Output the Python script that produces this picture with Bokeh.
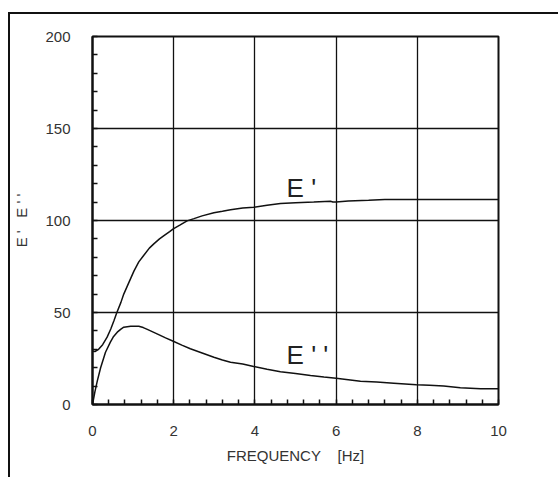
from bokeh.plotting import figure
from bokeh.models import SingleIntervalTicker, Range1d
from bokeh.core.properties import value
from bokeh.embed import file_html
from bokeh.resources import INLINE

# Storage modulus E'
freq_e1 = [0, 0.06, 0.15, 0.25, 0.36, 0.45, 0.53, 0.6, 0.7, 0.77, 0.9, 1.02, 1.14, 1.26, 1.4,
           1.51, 1.65, 1.76, 1.9, 1.99, 2.15, 2.33, 2.5, 2.7, 2.99, 3.2, 3.4, 3.7, 3.97, 4.3,
           4.63, 5.0, 5.45, 5.86, 5.92, 6.0, 6.3, 6.8, 7.2, 8.0, 9.0, 10.0]
e_storage = [29, 28.8, 30, 32.5, 36.6, 41, 45.7, 50, 55.5, 60, 66.5, 72.5, 77.5, 81, 85,
             87.3, 90, 91.8, 94, 95.5, 97.5, 99.8, 101, 102.5, 104.2, 105, 105.8, 106.8, 107.2, 108.3,
             109.2, 109.6, 110, 110.5, 110.1, 110, 110.6, 111, 111.4, 111.4, 111.4, 111.4]

# Loss modulus E''
freq_e2 = [0, 0.06, 0.12, 0.2, 0.32, 0.44, 0.52, 0.61, 0.7, 0.77, 0.94, 1.14, 1.25, 1.35, 1.59,
           1.8, 1.99, 2.2, 2.41, 2.7, 2.99, 3.2, 3.4, 3.7, 3.97, 4.3, 4.63, 5.0, 5.37, 5.7,
           6.0, 6.3, 6.6, 7.0, 7.42, 7.98, 8.3, 8.65, 9.06, 9.56, 10.0]
e_loss = [0, 7, 13, 20, 28.4, 33.9, 37, 39.3, 41, 42, 42.5, 42.5, 41.8, 40.8, 38.4,
          36.2, 34.4, 32.3, 30.3, 28, 25.7, 24.2, 23, 22, 20.7, 19.2, 17.8, 16.8, 15.8, 15,
          14.3, 13.5, 12.7, 12.2, 11.6, 10.7, 10.4, 10, 9.1, 8.5, 8.5]

curve_labels = ["E '", "E ' '"]
label_x = [4.78, 4.78]
label_y = [117.5, 27.0]

FONT = "Liberation Sans"
INK = "#111111"
TXT = "#333333"
NB = "\u00a0"

p = figure(width=550, height=465, output_backend="svg", toolbar_location=None,
           x_range=Range1d(0, 10), y_range=Range1d(0, 200),
           min_border_left=82, min_border_right=62, min_border_top=22, min_border_bottom=75)
p.styles = {"border-left": "2px solid #111", "border-top": "2px solid #111",
            "margin-left": "8px", "margin-top": "12px"}

p.line(freq_e1, e_storage, line_color=INK, line_width=1.5)
p.line(freq_e2, e_loss, line_color=INK, line_width=1.5)
p.text(x=label_x, y=label_y, text=curve_labels, text_font=value(FONT),
       text_font_size="26px", text_color="#222222", text_align="left",
       text_baseline="alphabetic")

p.xaxis.ticker = SingleIntervalTicker(interval=2, num_minor_ticks=5)
p.yaxis.ticker = SingleIntervalTicker(interval=50, num_minor_ticks=5)

for ax in (p.xaxis[0], p.yaxis[0]):
    ax.axis_line_color = INK
    ax.axis_line_width = 2
    ax.major_tick_in = 0
    ax.major_tick_out = 0
    ax.minor_tick_in = 5
    ax.minor_tick_out = 0
    ax.minor_tick_line_color = INK
    ax.minor_tick_line_width = 1.5
    ax.major_label_text_font = FONT
    ax.major_label_text_font_size = "15px"
    ax.major_label_text_color = TXT
    ax.axis_label_text_font = FONT
    ax.axis_label_text_font_size = "15px"
    ax.axis_label_text_font_style = "normal"
    ax.axis_label_text_color = TXT

p.xaxis.major_label_standoff = 21
p.yaxis.major_label_standoff = 22
p.xaxis.axis_label = "FREQUENCY" + NB * 4 + "[Hz]"
p.yaxis.axis_label = "E" + NB + "'" + NB * 3 + "E" + NB + "'" + NB + "'"
p.xaxis.axis_label_standoff = 8
p.yaxis.axis_label_standoff = 12

p.xgrid.grid_line_color = INK
p.ygrid.grid_line_color = INK
p.xgrid.grid_line_width = 1.3
p.ygrid.grid_line_width = 1.3
p.xgrid.grid_line_alpha = 1
p.ygrid.grid_line_alpha = 1

p.outline_line_color = INK
p.outline_line_width = 2
p.outline_line_alpha = 1
p.background_fill_color = "white"
p.border_fill_color = "white"

open("out.html", "w").write(file_html(p, INLINE))
